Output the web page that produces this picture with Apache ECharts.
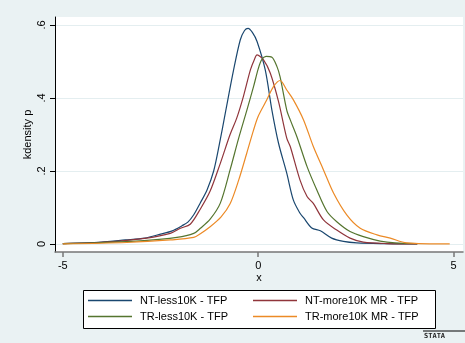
<!DOCTYPE html>
<html>
<head>
<meta charset="utf-8">
<script src="https://cdn.jsdelivr.net/npm/echarts@6/dist/echarts.min.js"></script>
<style>
  html, body { margin: 0; padding: 0; background: #eaf2f3; }
  #chart { width: 465px; height: 343px; }
</style>
</head>
<body>
<div id="chart"></div>
<script>
// kernel density curves as [x, density]
const ntLess = [
  [-5, 0.001], [-4.2, 0.004], [-3.4, 0.011], [-2.9, 0.016], [-2.5, 0.027], [-2.2, 0.036],
  [-1.95, 0.05], [-1.8, 0.06], [-1.65, 0.08], [-1.48, 0.113], [-1.31, 0.148], [-1.14, 0.2],
  [-1.0, 0.27], [-0.84, 0.36], [-0.63, 0.477], [-0.46, 0.559], [-0.35, 0.585], [-0.26, 0.591],
  [-0.15, 0.58], [-0.03, 0.555], [0.18, 0.477], [0.35, 0.367], [0.52, 0.276], [0.73, 0.194],
  [0.9, 0.12], [1.07, 0.084], [1.16, 0.072], [1.37, 0.044], [1.59, 0.036], [1.88, 0.016],
  [2.18, 0.007], [2.52, 0.003], [3.2, 0.001], [4.07, 0]
];
const ntMore = [
  [-5, 0.001], [-3.8, 0.006], [-2.85, 0.016], [-2.25, 0.029], [-1.99, 0.043], [-1.74, 0.054],
  [-1.48, 0.096], [-1.23, 0.145], [-0.97, 0.221], [-0.72, 0.3], [-0.55, 0.345], [-0.38, 0.404],
  [-0.2, 0.477], [-0.1, 0.505], [-0.03, 0.518], [0.14, 0.504], [0.31, 0.468], [0.52, 0.39],
  [0.73, 0.29], [0.82, 0.267], [1.07, 0.175], [1.25, 0.13], [1.41, 0.111], [1.67, 0.066],
  [2.01, 0.038], [2.35, 0.016], [2.69, 0.005], [3.3, 0.001], [4.07, 0]
];
const trLess = [
  [-5, 0.001], [-4.2, 0.003], [-2.93, 0.009], [-2.08, 0.018], [-1.65, 0.029], [-1.48, 0.043],
  [-1.23, 0.068], [-0.97, 0.112], [-0.72, 0.203], [-0.5, 0.29], [-0.29, 0.367], [-0.12, 0.431],
  [0.0, 0.48], [0.09, 0.505], [0.2, 0.514], [0.35, 0.512], [0.48, 0.486], [0.56, 0.458],
  [0.73, 0.367], [0.82, 0.34], [0.99, 0.294], [1.25, 0.212], [1.5, 0.148], [1.76, 0.089],
  [2.01, 0.061], [2.35, 0.034], [2.69, 0.02], [3.12, 0.008], [3.5, 0.003], [4.07, 0.001]
];
const trMore = [
  [-5, 0], [-3.36, 0.004], [-2.25, 0.011], [-1.65, 0.018], [-1.48, 0.028], [-1.23, 0.047],
  [-0.95, 0.074], [-0.72, 0.11], [-0.5, 0.175], [-0.29, 0.25], [-0.12, 0.312], [0.0, 0.35],
  [0.22, 0.395], [0.39, 0.431], [0.56, 0.448], [0.73, 0.422], [0.9, 0.395], [1.16, 0.34],
  [1.41, 0.267], [1.67, 0.203], [1.93, 0.139], [2.27, 0.079], [2.61, 0.043], [3.04, 0.025],
  [3.38, 0.016], [3.8, 0.003], [4.9, 0]
];

const seriesNames = ['NT-less10K - TFP', 'NT-more10K MR - TFP', 'TR-less10K - TFP', 'TR-more10K MR - TFP'];
const seriesData = [ntLess, ntMore, trLess, trMore];
const seriesColors = ['#1a476f', '#90353b', '#55752f', '#ec8a26'];

const xTicks = [-5, 0, 5];
const yTicks = [0, 0.2, 0.4, 0.6];

const chart = echarts.init(document.getElementById('chart'));
const font = 'Liberation Sans, Arial, sans-serif';

const legendPos = [
  { left: 88, top: 295 },
  { left: 253, top: 295 },
  { left: 88, top: 311 },
  { left: 253, top: 311 }
];

const option = {
  backgroundColor: '#eaf2f3',
  animation: false,
  grid: {
    left: 55, top: 17, right: 2, bottom: 91,
    show: true, backgroundColor: '#ffffff', borderWidth: 0
  },
  xAxis: {
    type: 'value',
    min: -5.2,
    max: 5.24,
    name: 'x',
    nameLocation: 'middle',
    nameGap: 20,
    nameMoveOverlap: false,
    nameTextStyle: { color: '#000', fontSize: 11, fontFamily: font },
    axisLine: { show: true, onZero: false, lineStyle: { color: '#777', width: 1.5 } },
    axisTick: { show: true, customValues: xTicks, length: 5, lineStyle: { color: '#777', width: 1.5 } },
    axisLabel: { customValues: xTicks, margin: 8, color: '#000', fontSize: 11, fontFamily: font },
    splitLine: { show: false }
  },
  yAxis: {
    type: 'value',
    min: -0.022,
    max: 0.622,
    name: 'kdensity p',
    nameLocation: 'middle',
    nameGap: 22,
    nameMoveOverlap: false,
    nameTextStyle: { color: '#000', fontSize: 11, fontFamily: font },
    axisLine: { show: true, onZero: false, lineStyle: { color: '#000', width: 1 } },
    axisTick: { show: true, customValues: yTicks, length: 5, lineStyle: { color: '#000' } },
    axisLabel: {
      customValues: yTicks,
      rotate: 90,
      margin: 8,
      color: '#000',
      fontSize: 11,
      fontFamily: font,
      formatter: (v) => (v === 0 ? '0' : String(+v.toFixed(1)).replace('0.', '.'))
    },
    splitLine: { show: true, lineStyle: { color: '#e4eef0', width: 1 } }
  },
  legend: seriesNames.map((name, i) => ({
    data: [name],
    left: legendPos[i].left,
    top: legendPos[i].top,
    icon: 'rect',
    itemWidth: 44,
    itemHeight: 1.5,
    itemGap: 0,
    padding: 0,
    textStyle: { color: '#000', fontSize: 11, fontFamily: font, padding: [0, 0, 0, 3] }
  })),
  graphic: [
    {
      type: 'rect',
      left: 83, top: 290,
      shape: { width: 352, height: 38 },
      style: { fill: '#fff', stroke: '#000', lineWidth: 1 },
      z: -1
    },
    {
      type: 'line',
      shape: { x1: 423, y1: 331, x2: 465, y2: 331 },
      style: { stroke: '#000', lineWidth: 1 }
    },
    {
      type: 'text',
      left: 424, top: 333,
      style: { text: 'STATA', fill: '#222', font: 'bold 7px DejaVu Sans Mono, monospace' }
    }
  ],
  series: seriesNames.map((name, i) => ({
    name,
    type: 'line',
    data: seriesData[i],
    smooth: 0.3,
    showSymbol: false,
    symbol: 'none',
    lineStyle: { color: seriesColors[i], width: 1.2 },
    itemStyle: { color: seriesColors[i] }
  }))
};

chart.setOption(option);
</script>
</body>
</html>
